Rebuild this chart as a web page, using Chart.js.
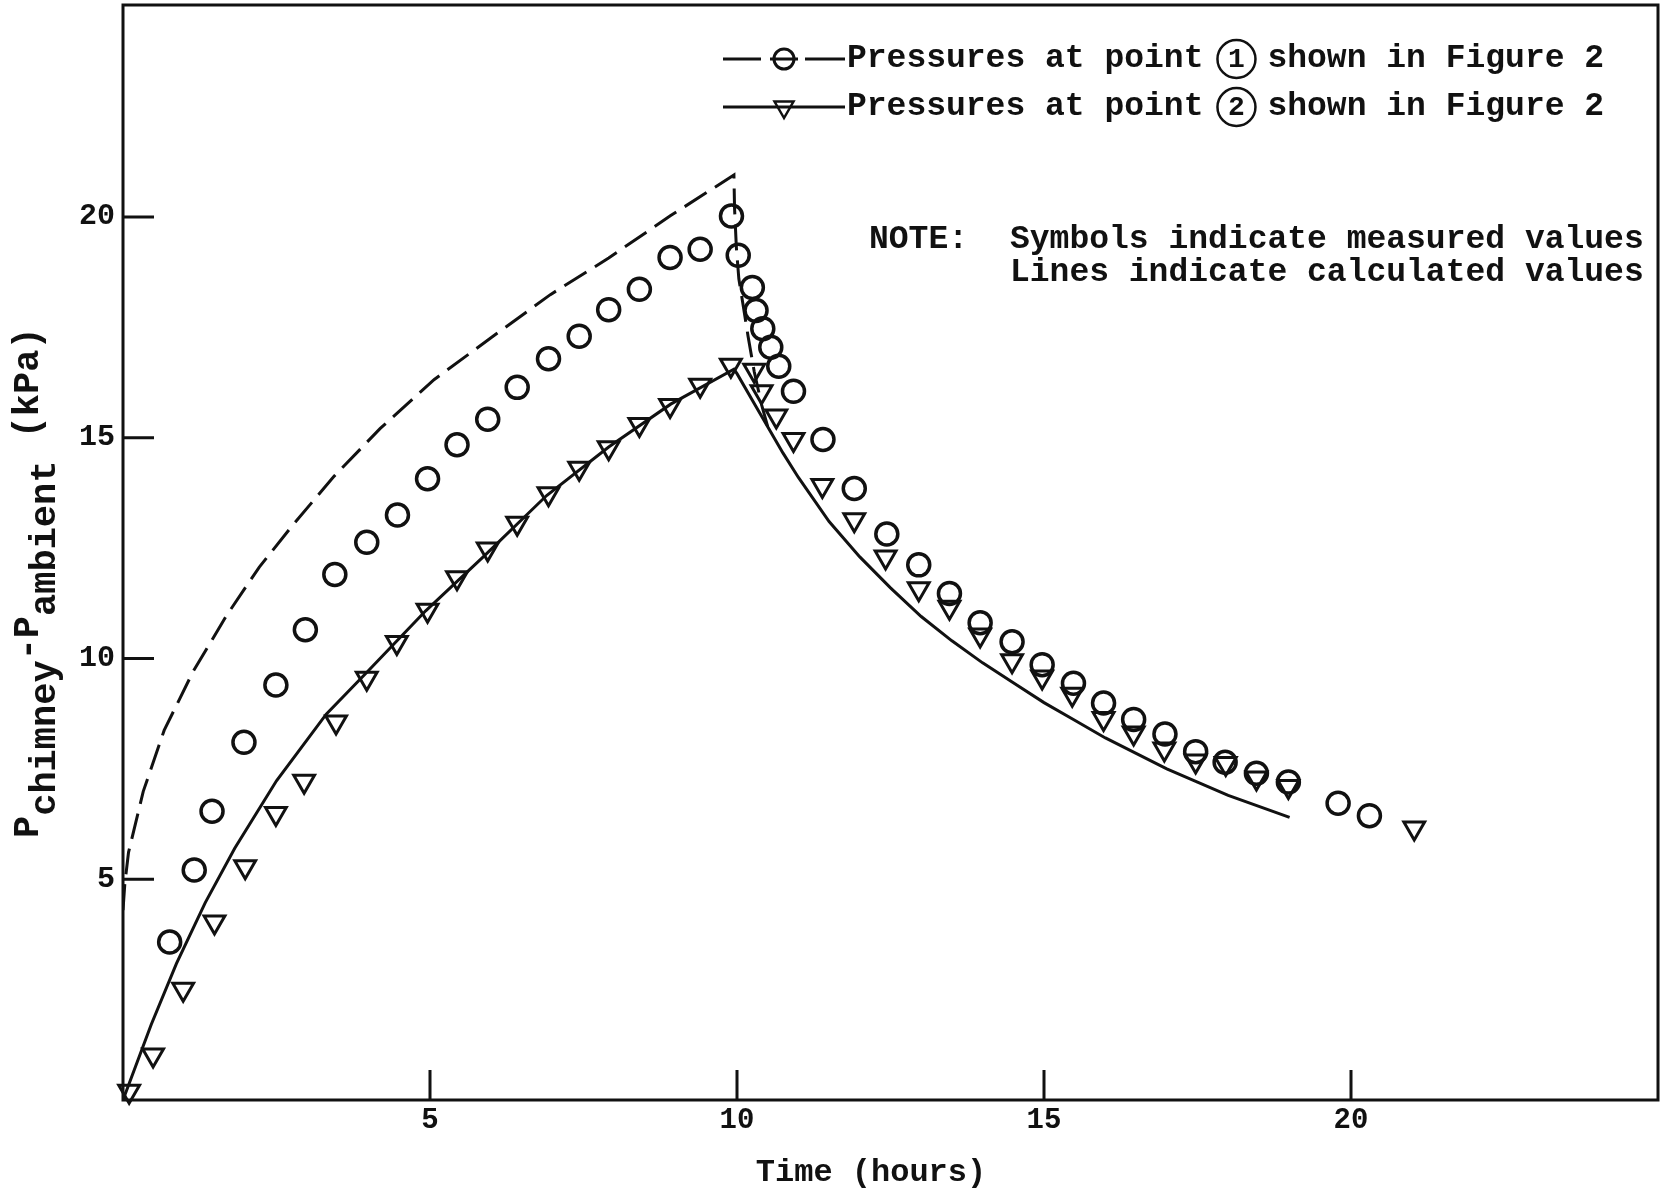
<!DOCTYPE html>
<html>
<head>
<meta charset="utf-8">
<script src="https://cdn.jsdelivr.net/npm/chart.js@4.4.1/dist/chart.umd.min.js"></script>
<style>
  html, body { margin: 0; padding: 0; background: #fff; }
  canvas { display: block; }
</style>
</head>
<body>
<canvas id="pressureChart" width="1661" height="1191" style="width:1661px;height:1191px"></canvas>
<script>
// measured values, point 1 (circles)
const measured1Time = [0.76, 1.16, 1.45, 1.97, 2.49, 2.97, 3.45, 3.97, 4.47, 4.96, 5.44, 5.94, 6.42, 6.93, 7.43, 7.91, 8.41, 8.91, 9.40, 9.91,
    10.02, 10.25, 10.31, 10.42, 10.55, 10.68, 10.92, 11.40, 11.91, 12.44, 12.96, 13.46, 13.96, 14.48, 14.97, 15.48, 15.97, 16.46, 16.97,
    17.47, 17.95, 18.46, 18.98, 19.79, 20.30];
const measured1Pressure = [3.58, 5.21, 6.54, 8.10, 9.40, 10.65, 11.90, 12.63, 13.25, 14.07, 14.84, 15.42, 16.14, 16.79, 17.30, 17.90, 18.36, 19.08, 19.27, 20.02,
    19.13, 18.40, 17.88, 17.47, 17.05, 16.62, 16.05, 14.96, 13.85, 12.82, 12.12, 11.47, 10.81, 10.38, 9.86, 9.44, 8.99, 8.62, 8.29,
    7.89, 7.65, 7.40, 7.20, 6.72, 6.44];

// measured values, point 2 (triangles)
const measured2Time = [0.10, 0.49, 0.98, 1.49, 1.99, 2.49, 2.95, 3.47, 3.97, 4.46, 4.96, 5.44, 5.94, 6.42, 6.93, 7.43, 7.91, 8.41, 8.91, 9.40, 9.90,
    10.28, 10.40, 10.64, 10.92, 11.39, 11.91, 12.42, 12.96, 13.46, 13.96, 14.48, 14.97, 15.46, 15.97, 16.46, 16.96, 17.47, 17.96,
    18.46, 18.98, 21.03];
const measured2Pressure = [0.20, 1.02, 2.51, 4.03, 5.28, 6.49, 7.22, 8.56, 9.55, 10.36, 11.09, 11.83, 12.48, 13.06, 13.73, 14.31, 14.77, 15.30, 15.73, 16.19, 16.64,
    16.53, 16.04, 15.49, 14.96, 13.92, 13.14, 12.30, 11.58, 11.16, 10.53, 9.95, 9.58, 9.19, 8.64, 8.31, 7.95, 7.68, 7.62,
    7.29, 7.10, 6.16];

// calculated values, point 1 (dashed line)
const calc1Time = [0, 0.03, 0.09, 0.33, 0.67, 1.14, 1.69, 2.22, 2.77, 3.44, 4.19, 5.07, 6.01, 6.96, 7.91, 8.92, 9.95,
    9.96, 9.99, 10.03, 10.10, 10.18, 10.28, 10.40, 10.50];
const calc1Pressure = [4.3, 4.9, 5.61, 6.99, 8.37, 9.70, 10.98, 12.07, 13.03, 14.13, 15.21, 16.32, 17.28, 18.24, 19.07, 20.03, 20.95,
    20.2, 19.3, 18.6, 18.0, 17.3, 16.5, 15.75, 15.25];

// calculated values, point 2 (solid line)
const calc2Time = [0, 0.46, 0.87, 1.34, 1.82, 2.50, 3.31, 3.98, 4.93, 5.88, 6.90, 7.91, 8.92, 9.95,
    10.0, 10.25, 10.5, 10.75, 11.0, 11.5, 12.0, 12.5, 13.0, 13.5, 14.0, 14.5, 15.0, 15.5, 16.0, 16.5, 17.0, 17.5, 18.0, 18.5, 19.0];
const calc2Pressure = [0, 1.71, 3.09, 4.47, 5.70, 7.23, 8.74, 9.70, 11.08, 12.32, 13.69, 14.79, 15.76, 16.55,
    16.45, 15.85, 15.25, 14.65, 14.1, 13.1, 12.3, 11.6, 10.95, 10.4, 9.9, 9.45, 9.0, 8.6, 8.2, 7.85, 7.5, 7.2, 6.9, 6.65, 6.4];

const xTickValues = [5, 10, 15, 20];
const yTickValues = [5, 10, 15, 20];

const legendLabels = ['Pressures at point', 'shown in Figure 2'];
const noteLines = ['Symbols indicate measured values', 'Lines indicate calculated values'];

const INK = '#111';
const MONO = '"Liberation Mono", "DejaVu Sans Mono", monospace';

function toPoints(xs, ys) {
    return xs.map((x, i) => ({ x: x, y: ys[i] }));
}

// frame, inward tick marks, legend, note and axis titles
const decorations = {
    id: 'decorations',
    afterDraw(chart) {
        const ctx = chart.ctx;
        const area = chart.chartArea;
        const xs = chart.scales.x;
        const ys = chart.scales.y;
        ctx.save();
        ctx.strokeStyle = INK;
        ctx.fillStyle = INK;
        ctx.lineWidth = 3;
        ctx.strokeRect(area.left, area.top, area.right - area.left, area.bottom - area.top);

        ctx.beginPath();
        xTickValues.forEach(v => {
            const px = xs.getPixelForValue(v);
            ctx.moveTo(px, area.bottom);
            ctx.lineTo(px, area.bottom - 30);
        });
        yTickValues.forEach(v => {
            const py = ys.getPixelForValue(v);
            ctx.moveTo(area.left, py);
            ctx.lineTo(area.left + 31, py);
        });
        ctx.stroke();

        // legend
        ctx.textBaseline = 'middle';
        ctx.textAlign = 'left';
        const rows = [59, 107];
        rows.forEach((y, i) => {
            ctx.lineWidth = 3;
            ctx.beginPath();
            if (i === 0) {
                [[723, 761], [770, 798], [805, 845]].forEach(([a, b]) => {
                    ctx.moveTo(a, y);
                    ctx.lineTo(b, y);
                });
            } else {
                ctx.moveTo(723, y);
                ctx.lineTo(845, y);
            }
            ctx.stroke();
            ctx.beginPath();
            if (i === 0) {
                ctx.arc(784, y, 10, 0, Math.PI * 2);
            } else {
                ctx.moveTo(784, y + 11);
                ctx.lineTo(784 - 9.5, y - 5.5);
                ctx.lineTo(784 + 9.5, y - 5.5);
                ctx.closePath();
            }
            ctx.lineWidth = i === 0 ? 3 : 2.5;
            ctx.stroke();

            ctx.font = 'bold 33px ' + MONO;
            ctx.fillText(legendLabels[0], 847, y);
            const cx = 847 + ctx.measureText(legendLabels[0]).width + 33;
            ctx.lineWidth = 2.5;
            ctx.beginPath();
            ctx.arc(cx, y, 19, 0, Math.PI * 2);
            ctx.stroke();
            ctx.textAlign = 'center';
            ctx.font = 'bold 28px ' + MONO;
            ctx.fillText(String(i + 1), cx, y + 1);
            ctx.textAlign = 'left';
            ctx.font = 'bold 33px ' + MONO;
            ctx.fillText(legendLabels[1], cx + 31, y);
        });

        // note
        ctx.fillText('NOTE:', 869, 240);
        ctx.fillText(noteLines[0], 1010, 240);
        ctx.fillText(noteLines[1], 1010, 273);

        // x title
        ctx.textAlign = 'center';
        ctx.font = 'bold 32px ' + MONO;
        ctx.fillText('Time (hours)', 871, 1173);

        // y title with subscripts
        ctx.save();
        ctx.translate(38, 838);
        ctx.rotate(-Math.PI / 2);
        ctx.textAlign = 'left';
        ctx.textBaseline = 'alphabetic';
        ctx.font = 'bold 37px ' + MONO;
        let pos = 0;
        [['P', 0], ['chimney', 17], ['-P', 0], ['ambient', 17], [' (kPa)', 0]].forEach(([s, dy]) => {
            ctx.fillText(s, pos, dy);
            pos += ctx.measureText(s).width;
        });
        ctx.restore();
        ctx.restore();
    }
};

const ctx = document.getElementById('pressureChart').getContext('2d');

const pressureChart = new Chart(ctx, {
    type: 'scatter',
    data: {
        datasets: [{
            label: 'Calculated point 1',
            data: toPoints(calc1Time, calc1Pressure),
            showLine: true,
            borderColor: INK,
            borderWidth: 3,
            borderDash: [26, 10],
            pointRadius: 0,
            tension: 0
        }, {
            label: 'Calculated point 2',
            data: toPoints(calc2Time, calc2Pressure),
            showLine: true,
            borderColor: INK,
            borderWidth: 3,
            pointRadius: 0,
            tension: 0
        }, {
            label: 'Measured point 1',
            data: toPoints(measured1Time, measured1Pressure),
            pointStyle: 'circle',
            pointRadius: 11,
            pointBorderWidth: 3.5,
            pointBorderColor: INK,
            pointBackgroundColor: 'rgba(0,0,0,0)',
            clip: false
        }, {
            label: 'Measured point 2',
            data: toPoints(measured2Time, measured2Pressure),
            pointStyle: 'triangle',
            rotation: 180,
            pointRadius: 12,
            pointBorderWidth: 3,
            pointBorderColor: INK,
            pointBackgroundColor: 'rgba(0,0,0,0)',
            clip: false
        }]
    },
    options: {
        responsive: false,
        animation: false,
        layout: { autoPadding: false, padding: { top: 5, right: 3, left: 0, bottom: 0 } },
        plugins: {
            legend: { display: false },
            tooltip: { enabled: false }
        },
        scales: {
            x: {
                type: 'linear',
                min: 0,
                max: 25,
                afterFit: s => {
                    s.height = 91;
                    s.paddingLeft = 0;
                    s.paddingRight = 0;
                },
                afterBuildTicks: s => { s.ticks = xTickValues.map(v => ({ value: v })); },
                grid: { display: false },
                border: { display: false },
                ticks: {
                    color: INK,
                    padding: -5,
                    maxRotation: 0,
                    font: { family: MONO, size: 29, weight: 'bold' }
                }
            },
            y: {
                type: 'linear',
                min: 0,
                max: 24.8,
                afterFit: s => {
                    s.width = 123;
                    s.paddingTop = 0;
                    s.paddingBottom = 0;
                },
                afterBuildTicks: s => { s.ticks = yTickValues.map(v => ({ value: v })); },
                grid: { display: false },
                border: { display: false },
                ticks: {
                    color: INK,
                    padding: 0,
                    font: { family: MONO, size: 30, weight: 'bold' }
                }
            }
        }
    },
    plugins: [decorations]
});
</script>
</body>
</html>
